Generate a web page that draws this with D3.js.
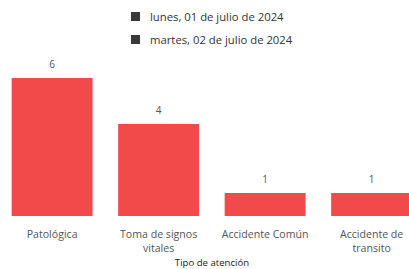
<!DOCTYPE html>
<html><head><meta charset="utf-8">
<script src="https://cdn.jsdelivr.net/npm/d3@7"></script>
<style>body{margin:0;background:#fff;}svg{display:block;font-family:"Open Sans",sans-serif;}</style>
</head><body><svg id="c" width="409" height="269"></svg>
<script>
const categories = [["Patológica"], ["Toma de signos", "vitales"], ["Accidente Común"], ["Accidente de", "transito"]];
const values = [6, 4, 1, 1];
const legendLabels = ["lunes, 01 de julio de 2024", "martes, 02 de julio de 2024"];
const axisTitle = "Tipo de atención";

const svg = d3.select("#c");
const x = d3.scaleBand().domain(d3.range(categories.length)).range([1, 1 + 106.5 * 3.96]).paddingInner(0.24).paddingOuter(0.1);
const y = d3.scaleLinear().domain([0, 6]).range([216, 78]);

svg.selectAll("rect.bar").data(values).join("rect").attr("class","bar")
  .attr("x",(d,i)=>x(i)).attr("width",x.bandwidth())
  .attr("y",d=>y(d)).attr("height",d=>y(0)-y(d))
  .attr("fill","#f24a4a");

svg.selectAll("text.val").data(values).join("text").attr("class","val")
  .attr("x",(d,i)=>x(i)+x.bandwidth()/2).attr("y",d=>y(d)-10)
  .attr("text-anchor","middle").attr("font-size",10).attr("fill","#555").text(d=>d);

const xl = svg.selectAll("text.cat").data(categories).join("text").attr("class","cat")
  .attr("x",(d,i)=>x(i)+x.bandwidth()/2).attr("y",238)
  .attr("text-anchor","middle").attr("font-size",10.6).attr("fill","#555");
xl.selectAll("tspan").data(d=>d).join("tspan")
  .attr("x",function(){return this.parentNode.getAttribute("x");})
  .attr("dy",(d,i)=>i?14:0).text(d=>d);

svg.append("text").attr("x",212).attr("y",266).attr("text-anchor","middle")
  .attr("font-size",9.6).attr("fill","#222").text(axisTitle);

const lg = svg.selectAll("g.leg").data(legendLabels).join("g").attr("class","leg")
  .attr("transform",(d,i)=>`translate(131,${12+i*23})`);
lg.append("rect").attr("width",9).attr("height",9).attr("fill","#3a3a3a");
lg.append("text").attr("x",19).attr("y",9).attr("font-size",11.3).attr("fill","#333").text(d=>d);
</script></body></html>
